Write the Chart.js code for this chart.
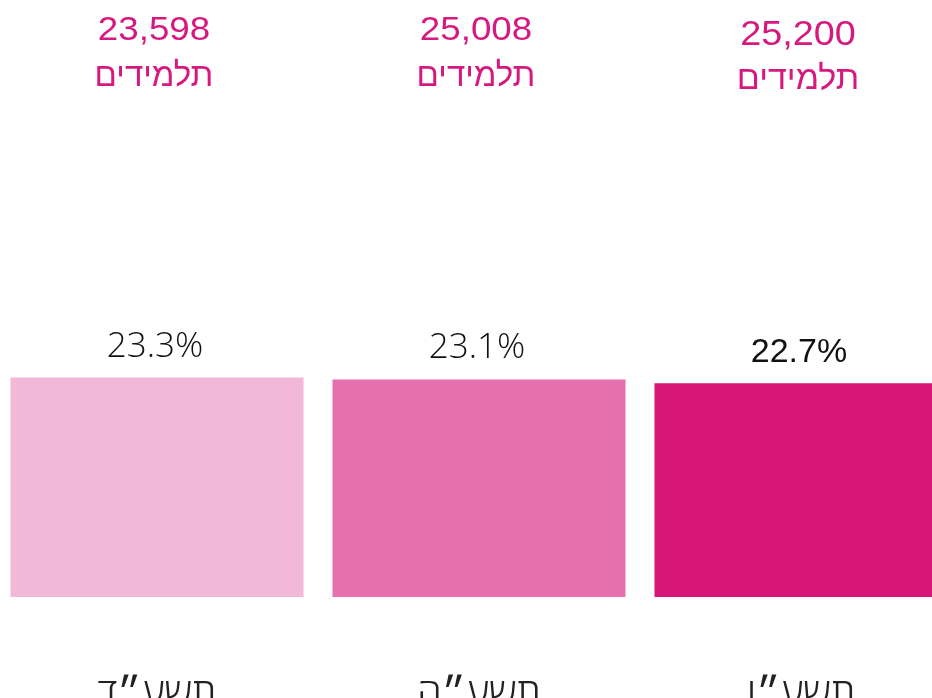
<!DOCTYPE html>
<html lang="he">
<head>
<meta charset="utf-8">
<title>תלמידים לפי שנה</title>
<script src="https://cdn.jsdelivr.net/npm/chart.js@4.4.1/dist/chart.umd.min.js"></script>
<style>
  html, body { margin: 0; padding: 0; background: #fff; overflow: hidden; }
  body { width: 932px; height: 698px; position: relative; }
  #wrap { position: absolute; left: -4px; top: 0; width: 966px; height: 795px; }
</style>
</head>
<body>
<div id="wrap"><canvas id="studentsChart"></canvas></div>
<script>
// school years, left to right
const years = ['תשע״ד', 'תשע״ה', 'תשע״ו'];
// share (%) per year - bar heights
const shares = [23.3, 23.1, 22.7];
// total students per year
const students = [23598, 25008, 25200];
const unitLabel = 'תלמידים';

const barColors = ['#F2B8D8', '#E670AE', '#D71579'];
const accent = '#D6197E';

// per-column text tweaks (last column set a bit differently)
const pctFonts = ['300 35px "Open Sans", sans-serif', '300 35px "Open Sans", sans-serif', '34px "Liberation Sans", Arial, sans-serif'];
const countSize = [34, 34, 35];
const countBase = [40, 40, 45];
const unitBase = [86, 86, 89];

const labelsPlugin = {
    id: 'barLabels',
    afterDatasetsDraw: chart => {
        const ctx = chart.ctx;
        const meta = chart.getDatasetMeta(0);
        ctx.save();
        ctx.textAlign = 'center';
        ctx.textBaseline = 'alphabetic';
        meta.data.forEach((bar, i) => {
            const { x, y } = bar.getProps(['x', 'y'], true);
            // percentage above the bar
            ctx.fillStyle = '#111';
            ctx.font = pctFonts[i];
            ctx.fillText(shares[i].toFixed(1) + '%', x - 2, y - 21);

            // student count at the top of the column
            ctx.fillStyle = accent;
            ctx.font = countSize[i] + 'px "Liberation Sans", Arial, sans-serif';
            ctx.save();
            ctx.translate(x - 3, countBase[i]);
            ctx.scale(1.08, 1);
            ctx.fillText(students[i].toLocaleString('en-US'), 0, 0);
            ctx.restore();
            ctx.font = (countSize[i] - 1) + 'px "Liberation Sans", Arial, sans-serif';
            ctx.fillText(unitLabel, x - 3, unitBase[i]);
        });
        ctx.restore();
    }
};

new Chart(document.getElementById('studentsChart'), {
    type: 'bar',
    data: {
        labels: years,
        datasets: [{
            data: shares,
            backgroundColor: barColors,
            borderWidth: 0,
            barPercentage: 0.91,
            categoryPercentage: 1
        }]
    },
    options: {
        responsive: true,
        maintainAspectRatio: false,
        animation: false,
        layout: { padding: { top: 126, left: 0, right: 0, bottom: 0 } },
        plugins: {
            legend: { display: false },
            tooltip: { enabled: false }
        },
        scales: {
            x: {
                grid: { display: false, drawTicks: false },
                border: { display: false },
                ticks: {
                    color: '#222',
                    padding: 75,
                    font: { family: '"Open Sans", sans-serif', size: 40, weight: 300, lineHeight: 1.2 }
                }
            },
            y: {
                display: false,
                min: 0,
                max: 50
            }
        }
    },
    plugins: [labelsPlugin]
});
</script>
</body>
</html>
